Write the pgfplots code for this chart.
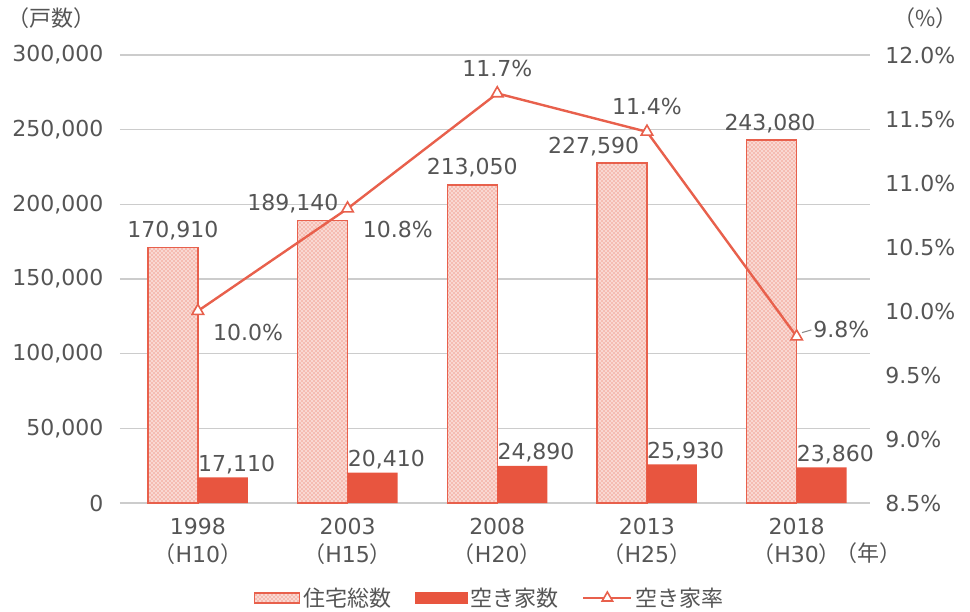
\documentclass[border=0pt]{standalone}
\usepackage{pgfplots}
\pgfplotsset{compat=1.18}
\usetikzlibrary{patterns}
\usepackage{fontspec}
\setmainfont{DejaVu Sans}
\newfontfamily\jp{Noto Sans CJK JP}
\definecolor{barred}{HTML}{E8553F}
\definecolor{linered}{HTML}{E8604C}
\definecolor{txt}{HTML}{555555}
\definecolor{gridc}{HTML}{CCCCCC}
\definecolor{pinkfill}{HTML}{F9D8D2}
\newcommand{\lp}{{\jp （}}
\newcommand{\rp}{{\jp ）}}
\begin{document}
\begin{tikzpicture}[font=\fontsize{16.5}{20}\selectfont, text=txt]
\path[use as bounding box] (-90pt,-81pt) rectangle (637.5pt,377.25pt);
\begin{axis}[
  at={(0,0)}, anchor=south west,
  scale only axis, width=562.5pt, height=336pt,
  xmin=-0.52, xmax=4.49, ymin=0, ymax=300000,
  axis line style={draw=none}, major tick length=0pt,
  ymajorgrids, grid style={gridc, line width=1pt},
  ytick={0,50000,100000,150000,200000,250000,300000},
  scaled y ticks=false,
  /pgf/number format/assume math mode=true,
  /pgf/number format/fixed,
  /pgf/number format/1000 sep={,},
  yticklabel style={text=txt, xshift=-9pt},
  xtick={0,1,2,3,4},
  xticklabels={{1998\\\lp H10\rp},{2003\\\lp H15\rp},{2008\\\lp H20\rp},{2013\\\lp H25\rp},{2018\\\lp H30\rp}},
  xticklabel style={align=center, text=txt, yshift=-8pt, font=\fontsize{16.5}{21}\selectfont},
  tick label style={font=\fontsize{16.5}{20}\selectfont},
  clip=false,
]
\addplot[ybar, bar width=37.5pt, bar shift=-18.75pt, draw=linered, line width=1pt,
  fill=pinkfill, postaction={pattern=crosshatch dots, pattern color=linered}]
  coordinates {(0,170910) (1,189140) (2,213050) (3,227590) (4,243080)};
\addplot[ybar, bar width=37.5pt, bar shift=18.75pt, draw=none, fill=barred]
  coordinates {(0,17110) (1,20410) (2,24890) (3,25930) (4,23860)};
% total labels
\node[anchor=south, xshift=-18.75pt, yshift=2pt] at (axis cs:0,170910) {170,910};
\node[anchor=south, xshift=-41pt, yshift=2pt] at (axis cs:1,189140) {189,140};
\node[anchor=south, xshift=-18.75pt, yshift=2pt] at (axis cs:2,213050) {213,050};
\node[anchor=south, xshift=-40pt, yshift=2pt] at (axis cs:3,227590) {227,590};
\node[anchor=south, xshift=-20pt, yshift=2pt] at (axis cs:4,243080) {243,080};
% vacant labels
\node[anchor=south west, inner xsep=0pt, yshift=-1pt] at (axis cs:0,17110) {17,110};
\node[anchor=south west, inner xsep=0pt, yshift=-1pt] at (axis cs:1,20410) {20,410};
\node[anchor=south west, inner xsep=0pt, yshift=-1pt] at (axis cs:2,24890) {24,890};
\node[anchor=south west, inner xsep=0pt, yshift=-1pt] at (axis cs:3,25930) {25,930};
\node[anchor=south west, inner xsep=0pt, yshift=-1pt] at (axis cs:4,23860) {23,860};
\end{axis}
\begin{axis}[
  at={(0,0)}, anchor=south west,
  scale only axis, width=562.5pt, height=336pt,
  xmin=-0.52, xmax=4.49, ymin=8.5, ymax=12,
  axis x line=none, axis y line*=right,
  axis line style={draw=none}, major tick length=0pt,
  ytick={8.5,9,9.5,10,10.5,11,11.5,12},
  /pgf/number format/assume math mode=true,
  yticklabel={\pgfmathprintnumber[fixed,fixed zerofill,precision=1]{\tick}\%},
  yticklabel style={text=txt, xshift=8pt, font=\fontsize{16.5}{20}\selectfont},
  clip=false,
  legend columns=3,
  legend style={draw=none, fill=none, at={(0.493,-0.212)}, anchor=center,
    font=\jp\fontsize{16.5}{20}\selectfont, text=txt,
    nodes={inner xsep=2pt},
    /tikz/every even column/.append style={column sep=16pt}},
]
\addlegendimage{legend image code/.code={\draw[draw=linered, line width=1pt, fill=pinkfill,
  postaction={pattern=crosshatch dots, pattern color=linered}] (0pt,-3.8pt) rectangle (34pt,3.8pt);}}
\addlegendentry{住宅総数}
\addlegendimage{legend image code/.code={\fill[barred] (0pt,-4pt) rectangle (39pt,4pt);}}
\addlegendentry{空き家数}
\addlegendimage{legend image code/.code={\draw[linered, line width=1.5pt] (0pt,0pt) -- (36pt,0pt);
  \draw[linered, fill=white, line width=1.2pt]
  plot[mark=triangle*, mark size=4.5pt] coordinates {(18pt,0pt)};}}
\addlegendentry{空き家率}
\addplot[linered, line width=1.8pt, mark=triangle*, mark size=5pt,
  mark options={fill=white, draw=linered, line width=1.2pt}, forget plot]
  coordinates {(0,10.0) (1,10.8) (2,11.7) (3,11.4) (4,9.8)};
\node[anchor=north west, xshift=8pt, yshift=-6pt] at (axis cs:0,10.0) {10.0\%};
\node[anchor=north west, xshift=8pt, yshift=-6pt] at (axis cs:1,10.8) {10.8\%};
\node[anchor=south, yshift=9pt] at (axis cs:2,11.7) {11.7\%};
\node[anchor=south, yshift=9pt] at (axis cs:3,11.4) {11.4\%};
\draw[txt!70, line width=0.8pt] ([xshift=4pt,yshift=3pt]axis cs:4,9.8) -- ([xshift=11pt,yshift=5pt]axis cs:4,9.8);
\node[anchor=west, xshift=9pt, yshift=5pt] at (axis cs:4,9.8) {9.8\%};
\end{axis}
\node[anchor=west, font=\jp\fontsize{16.5}{20}\selectfont] at (-88pt,364pt) {（戸数）};
\node[font=\jp\fontsize{16.5}{20}\selectfont] at (604pt,364pt) {（\%）};
\node[inner sep=0pt, font=\jp\fontsize{16.5}{20}\selectfont] at (561pt,-37.5pt) {（年）};
\end{tikzpicture}
\end{document}
